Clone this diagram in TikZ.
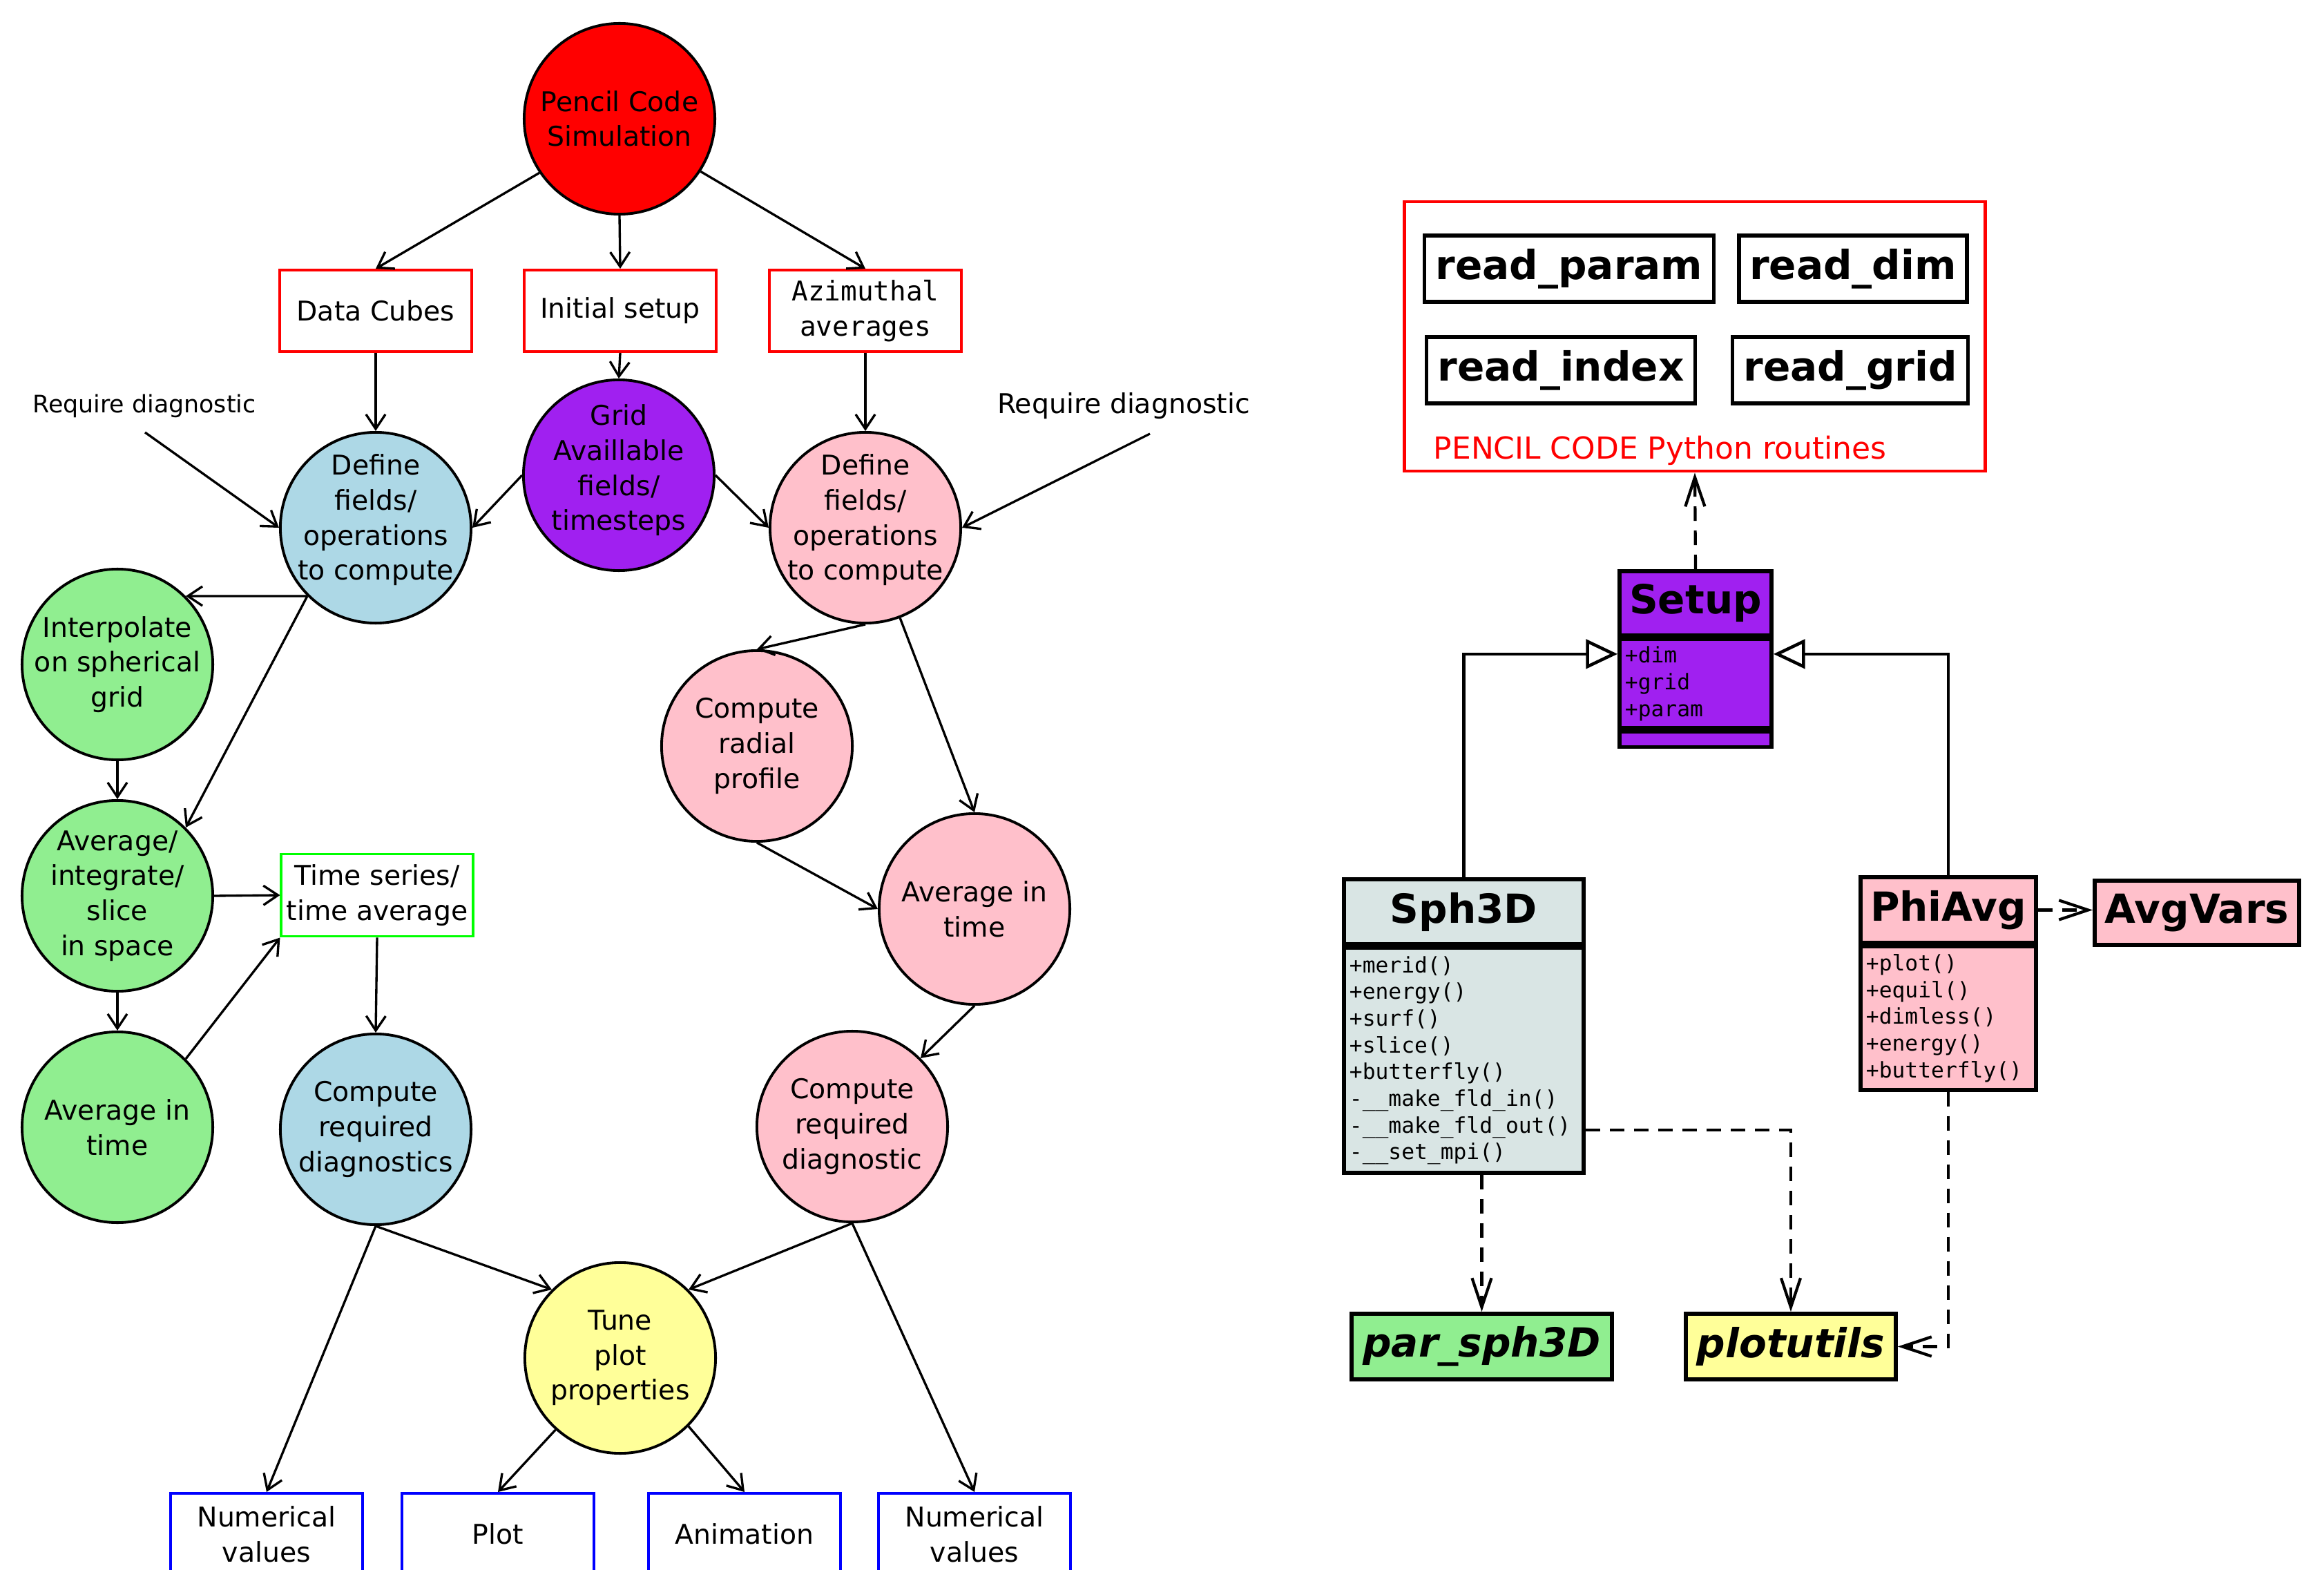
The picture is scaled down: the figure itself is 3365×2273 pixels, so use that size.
\documentclass[tikz,border=0pt]{standalone}
\usepackage{fontspec}
\setmainfont{DejaVu Sans}
\newfontfamily\monof{DejaVu Sans Mono}
\usetikzlibrary{arrows.meta,calc}
\definecolor{cpurple}{HTML}{A020F0}
\definecolor{cblue}{HTML}{ADD8E6}
\definecolor{cpink}{HTML}{FFC0CB}
\definecolor{cgreen}{HTML}{90EE90}
\definecolor{cyellow}{HTML}{FFFF99}
\definecolor{cgray}{RGB}{217,229,228}
\tikzset{
 flow/.style={draw=black, line width=0.95pt, -{Straight Barb[length=6pt,width=8pt]}},
 circ/.style={circle, draw=black, line width=1.1pt, minimum size=2.76cm, inner sep=0pt},
 ctext/.style={font=\fontsize{11.2}{14.4}\selectfont, align=center, inner sep=0pt},
 fbox/.style={draw, line width=1.1pt, minimum width=2.77cm, minimum height=1.18cm, inner sep=0pt, align=center, font=\fontsize{11.2}{14.5}\selectfont},
 umlbox/.style={draw=black, line width=1.6pt, inner sep=0pt, font=\fontsize{16.5}{20}\selectfont\bfseries},
 umlbody/.style={draw=black, line width=1.6pt, inner xsep=0.08cm, inner ysep=0pt, align=left, anchor=north west, font=\monof\fontsize{8.9}{11}\selectfont},
 dep/.style={line width=1.2pt, dash pattern=on 0.21cm off 0.14cm, -{Straight Barb[length=12pt,width=8pt]}},
 inherit/.style={line width=1.3pt, -{Triangle[open,length=13pt,width=12pt,fill=white]}},
}
\begin{document}
\begin{tikzpicture}[x=0.01cm, y=-0.01cm]
\useasboundingbox[fill=white] (0,0) rectangle (3365,2273);

% ---------- left flowchart ----------
\node[circ, fill=red, label={[ctext]center:{Pencil Code\\Simulation}}] (sim) at (897,172) {};
\node[fbox, draw=red] (dc) at (544,450) {Data Cubes};
\node[fbox, draw=red] (init) at (898,450) {Initial setup};
\node[fbox, draw=red, font=\monof\fontsize{11.2}{14.5}\selectfont] (az) at (1253,450) {Azimuthal\\averages};

\node[circ, fill=cpurple, label={[ctext, yshift=0.07cm]center:{Grid\\Availlable\\fields/\\timesteps}}] (grid) at (896,688) {};
\node[circ, fill=cblue, label={[ctext, yshift=0.11cm]center:{Define\\fields/\\operations\\to compute}}] (bdef) at (544,764) {};
\node[circ, fill=cpink, label={[ctext, yshift=0.11cm]center:{Define\\fields/\\operations\\to compute}}] (pdef) at (1253,764) {};

\node[font=\fontsize{9.9}{12}\selectfont] (reqL) at (209,588) {Require diagnostic};
\node[font=\fontsize{11.2}{14}\selectfont] (reqR) at (1627,588) {Require diagnostic};
\coordinate (reqLs) at (210,626);
\coordinate (reqRs) at (1665,628);

\node[circ, fill=cgreen, label={[ctext]center:{Interpolate\\on spherical\\grid}}] (interp) at (170,962) {};
\node[circ, fill=cgreen, label={[ctext]center:{Average/\\integrate/\\slice\\in space}}] (avg) at (170,1297) {};
\node[circ, fill=cgreen, label={[ctext]center:{Average in\\time}}] (gtime) at (170,1632) {};
\node[fbox, draw={rgb,255:red,0;green,255;blue,0}, minimum height=1.19cm] (ts) at (546,1296) {Time series/\\time average};
\node[circ, fill=cblue, label={[ctext]center:{Compute\\required\\diagnostics}}] (cdiag) at (544,1635) {};

\node[circ, fill=cpink, label={[ctext]center:{Compute\\radial\\profile}}] (radial) at (1096,1080) {};
\node[circ, fill=cpink, label={[ctext]center:{Average in\\time}}] (ptime) at (1411,1316) {};
\node[circ, fill=cpink, label={[ctext]center:{Compute\\required\\diagnostic}}] (pcdiag) at (1234,1631) {};

\node[circ, fill=cyellow, label={[ctext]center:{Tune\\plot\\properties}}] (tune) at (898,1966) {};

\node[fbox, draw=blue] (numL) at (386,2221) {Numerical\\values};
\node[fbox, draw=blue] (plot) at (721,2221) {Plot};
\node[fbox, draw=blue] (anim) at (1078,2221) {Animation};
\node[fbox, draw=blue] (numR) at (1411,2221) {Numerical\\values};

\draw[flow] (sim.214) -- (dc.north);
\draw[flow] (sim.south) -- (init.north);
\draw[flow] (sim.-33) -- (az.north);
\draw[flow] (dc.south) -- (bdef.north);
\draw[flow] (init.south) -- (grid.north);
\draw[flow] (az.south) -- (pdef.north);
\draw[flow] (grid.west) -- (bdef.east);
\draw[flow] (grid.east) -- (pdef.west);
\draw[flow] (reqLs) -- (bdef.west);
\draw[flow] (reqRs) -- (pdef.east);
\draw[flow] (bdef.225) -- (interp.45);
\draw[flow] (bdef.225) -- (avg.45);
\draw[flow] (interp.south) -- (avg.north);
\draw[flow] (avg.south) -- (gtime.north);
\draw[flow] (avg.east) -- (ts.west);
\draw[flow] (gtime.45) -- (ts.south west);
\draw[flow] (ts.south) -- (cdiag.north);
\draw[flow] (pdef.south) -- (radial.north);
\draw[flow] (pdef.-69) -- (ptime.north);
\draw[flow] (radial.south) -- (ptime.west);
\draw[flow] (ptime.south) -- (pcdiag.45);
\draw[flow] (cdiag.south) -- (tune.135);
\draw[flow] (pcdiag.south) -- (tune.45);
\draw[flow] (cdiag.south) -- (numL.north);
\draw[flow] (pcdiag.south) -- (numR.north);
\draw[flow] (tune.228) -- (plot.north);
\draw[flow] (tune.-45) -- (anim.north);

% ---------- right UML part ----------
\node[draw=red, line width=1.3pt, minimum width=8.40cm, minimum height=3.90cm, inner sep=0pt] (cont) at (2454,487) {};
\node[umlbox, minimum width=4.19cm, minimum height=0.96cm] (rparam) at (2272,389) {read\_param};
\node[umlbox, minimum width=3.30cm, minimum height=0.96cm] (rdim) at (2683,389) {read\_dim};
\node[umlbox, minimum width=3.89cm, minimum height=0.96cm] (rindex) at (2260,536) {read\_index};
\node[umlbox, minimum width=3.41cm, minimum height=0.96cm] (rgrid) at (2679,536) {read\_grid};
\node[anchor=base west, text=red, font=\fontsize{12.5}{15}\selectfont, inner sep=0pt] (contlbl) at (2075,665) {PENCIL CODE Python routines};

% Setup
\node[umlbox, fill=cpurple, minimum width=2.20cm, minimum height=0.93cm] (setupH) at (2455,873.5) {Setup};
\node[umlbody, fill=cpurple, text width=2.04cm, minimum height=1.28cm] (setupA) at (setupH.south west) {+dim\\+grid\\+param};
\node[draw=black, line width=1.6pt, fill=cpurple, anchor=north west, minimum width=2.20cm, minimum height=0.22cm, inner sep=0pt] (setupO) at (setupA.south west) {};

% Sph3D
\node[umlbox, fill=cgray, minimum width=3.47cm, minimum height=0.94cm] (sphH) at (2119.5,1320) {Sph3D};
\node[umlbody, fill=cgray, text width=3.31cm, minimum height=3.25cm] (sphB) at (sphH.south west) {+merid()\\+energy()\\+surf()\\+slice()\\+butterfly()\\-\_\_make\_fld\_in()\\-\_\_make\_fld\_out()\\-\_\_set\_mpi()};

% PhiAvg
\node[umlbox, fill=cpink, minimum width=2.54cm, minimum height=0.95cm] (phiH) at (2821,1317.5) {PhiAvg};
\node[umlbody, fill=cpink, text width=2.38cm, minimum height=2.07cm] (phiB) at (phiH.south west) {+plot()\\+equil()\\+dimless()\\+energy()\\+butterfly()};

\node[umlbox, fill=cpink, minimum width=2.96cm, minimum height=0.93cm] (avgv) at (3181,1321.5) {AvgVars};
\node[umlbox, fill=cgreen, minimum width=3.77cm, minimum height=0.95cm, font=\fontsize{16.5}{20}\selectfont\bfseries\itshape] (par) at (2145.5,1949.5) {par\_sph3D};
\node[umlbox, fill=cyellow, minimum width=3.04cm, minimum height=0.95cm, font=\fontsize{16.5}{20}\selectfont\bfseries\itshape] (putil) at (2593,1949.5) {plotutils};

\draw[dep] (setupH.north) -- (cont.south);
\draw[inherit] (sphH.north) |- ([yshift=-0.24cm]setupA.north west);
\draw[inherit] (phiH.north) |- ([yshift=-0.24cm]setupA.north east);
\draw[dep] (phiH.east) -- (phiH.east -| avgv.west);
\draw[dep] (sphB.south -| par.north) -- (par.north);
\draw[dep] ([yshift=0.65cm]sphB.south east) -| (putil.north);
\draw[dep] (phiB.south) |- (putil.east);
\end{tikzpicture}
\end{document}
